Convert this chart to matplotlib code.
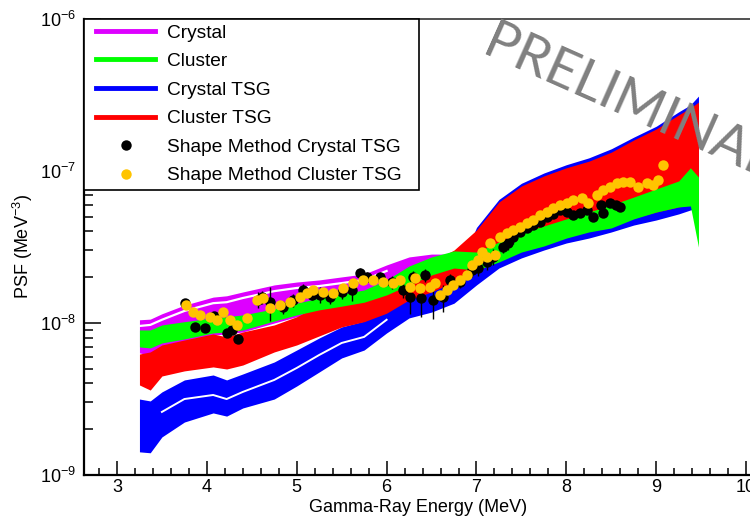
import numpy as np
import matplotlib
matplotlib.use("Agg")
import matplotlib.pyplot as plt
from matplotlib.lines import Line2D
from matplotlib.patches import Rectangle
from matplotlib.ticker import MultipleLocator, LogLocator, NullFormatter

plt.rcParams['font.family'] = ['Liberation Sans', 'DejaVu Sans']
plt.rcParams['mathtext.fontset'] = 'custom'
plt.rcParams['mathtext.rm'] = 'Liberation Sans'
plt.rcParams['mathtext.it'] = 'Liberation Sans:italic'
plt.rcParams['mathtext.bf'] = 'Liberation Sans:bold'

nan = np.nan

# band nodes (MeV)
energy = [3.25, 3.37, 3.50, 3.75, 4.07, 4.22, 4.40, 4.75, 5.00, 5.25, 5.50, 5.75, 6.00, 6.25,
          6.50, 6.75, 7.00, 7.25, 7.50, 7.75, 8.00, 8.25, 8.50, 8.75, 9.00, 9.25, 9.38, 9.47]

# Crystal
crystal_hi = [1.05e-8, 1.06e-8, 1.15e-8, 1.31e-8, 1.48e-8, 1.51e-8, 1.60e-8, 1.78e-8, 1.86e-8, 1.92e-8,
              2.01e-8, 2.10e-8, 2.41e-8, 2.72e-8, 2.84e-8, 2.84e-8, 2.80e-8, 3.26e-8, 3.74e-8, 4.16e-8,
              4.62e-8, 5.14e-8, 5.71e-8, 6.45e-8, 7.28e-8, 8.22e-8, 9.85e-8, 8.73e-8]
crystal_lo = [6.35e-9, 6.16e-9, 6.96e-9, 7.39e-9, 8.34e-9, 8.47e-9, 8.73e-9, 1.00e-8, 1.10e-8, 1.18e-8,
              1.26e-8, 1.33e-8, 1.48e-8, 1.72e-8, 2.01e-8, 2.23e-8, 2.16e-8, 2.44e-8, 2.84e-8, 3.11e-8,
              3.52e-8, 3.85e-8, 4.09e-8, 4.62e-8, 5.22e-8, 5.63e-8, 5.71e-8, 5.54e-8]
crystal_split = [9.56e-9, 9.71e-9, 1.05e-8, 1.20e-8, 1.35e-8, 1.37e-8, 1.46e-8, 1.62e-8, 1.70e-8, 1.75e-8,
                 1.83e-8, 1.92e-8, 2.20e-8, nan, nan, nan, nan, nan, nan, nan,
                 nan, nan, nan, nan, nan, nan, nan, nan]

# Cluster
cluster_hi = [9.00e-9, 9.00e-9, 9.71e-9, 1.02e-8, 1.08e-8, 1.10e-8, 1.13e-8, 1.24e-8, 1.35e-8, 1.46e-8,
              1.55e-8, 1.65e-8, 1.92e-8, 2.37e-8, 2.72e-8, 2.98e-8, 2.93e-8, 3.41e-8, 3.91e-8, 4.35e-8,
              4.84e-8, 5.37e-8, 5.98e-8, 6.74e-8, 7.62e-8, 8.60e-8, 1.05e-7, 9.13e-8]
cluster_lo = [6.96e-9, 6.85e-9, 7.39e-9, 7.85e-9, 8.60e-9, 8.73e-9, 9.00e-9, 1.03e-8, 1.13e-8, 1.22e-8,
              1.29e-8, 1.37e-8, 1.53e-8, 1.78e-8, 2.07e-8, 2.30e-8, 2.23e-8, 2.52e-8, 2.93e-8, 3.21e-8,
              3.62e-8, 3.97e-8, 4.22e-8, 4.84e-8, 5.37e-8, 5.80e-8, 5.89e-8, 3.16e-8]

# Crystal TSG
crystal_tsg_hi = [3.16e-9, 3.07e-9, 3.52e-9, 4.22e-9, 4.55e-9, 4.22e-9, 4.62e-9, 5.54e-9, 6.64e-9, 7.97e-9,
                  9.42e-9, 1.03e-8, 1.27e-8, 1.46e-8, 1.62e-8, 1.89e-8, 4.25e-8, 6.50e-8, 8.30e-8, 9.70e-8,
                  1.10e-7, 1.22e-7, 1.40e-7, 1.67e-7, 1.97e-7, 2.45e-7, 2.72e-7, 3.11e-7]
crystal_tsg_lo = [1.42e-9, 1.40e-9, 1.78e-9, 2.23e-9, 2.56e-9, 2.44e-9, 2.76e-9, 3.16e-9, 3.85e-9, 4.76e-9,
                  5.89e-9, 6.64e-9, 8.60e-9, 1.08e-8, 1.18e-8, 1.35e-8, 1.78e-8, 2.30e-8, 2.68e-8, 3.02e-8,
                  3.36e-8, 3.62e-8, 3.97e-8, 4.41e-8, 4.76e-8, 5.22e-8, 5.54e-8, 5.71e-8]
crystal_tsg_split = [nan, nan, 2.60e-9, 3.16e-9, 3.36e-9, 3.16e-9, 3.52e-9, 4.22e-9, 5.06e-9, 6.16e-9,
                     7.39e-9, 8.10e-9, 1.05e-8, nan, nan, nan, nan, nan, nan, nan,
                     nan, nan, nan, nan, nan, nan, nan, nan]

# Cluster TSG
cluster_tsg_hi = [6.25e-9, 6.45e-9, 7.17e-9, 7.73e-9, 8.47e-9, 8.10e-9, 8.73e-9, 9.71e-9, 1.10e-8, 1.31e-8,
                  1.42e-8, 1.51e-8, 1.83e-8, 2.16e-8, 2.52e-8, 3.02e-8, 4.09e-8, 6.25e-8, 7.97e-8, 9.28e-8,
                  1.05e-7, 1.16e-7, 1.33e-7, 1.60e-7, 1.89e-7, 2.34e-7, 2.60e-7, 2.84e-7]
cluster_tsg_lo = [3.91e-9, 3.62e-9, 4.48e-9, 4.84e-9, 5.14e-9, 4.98e-9, 5.29e-9, 6.45e-9, 7.17e-9, 8.22e-9,
                  9.42e-9, 1.02e-8, 1.16e-8, 1.42e-8, 1.60e-8, 1.86e-8, 2.16e-8, 2.68e-8, 3.02e-8, 3.36e-8,
                  3.74e-8, 4.09e-8, 4.41e-8, 4.91e-8, 5.37e-8, 5.80e-8, 5.98e-8, 5.98e-8]

# Shape method, crystal TSG
shape_crystal_e = [3.76, 3.87, 3.98, 4.08, 4.22, 4.28, 4.35, 4.57, 4.61, 4.70,
                   4.85, 4.96, 5.07, 5.17, 5.26, 5.37, 5.50, 5.62, 5.70, 5.78,
                   5.93, 6.06, 6.18, 6.26, 6.29, 6.38, 6.43, 6.52, 6.63, 6.71,
                   6.82, 6.95, 7.02, 7.12, 7.18, 7.30, 7.35, 7.41, 7.48, 7.56,
                   7.63, 7.71, 7.79, 7.85, 7.93, 8.01, 8.07, 8.15, 8.23, 8.30,
                   8.38, 8.41, 8.49, 8.55, 8.60]
shape_crystal_psf = [1.35e-8, 9.42e-9, 9.28e-9, 1.11e-8, 8.60e-9, 9.00e-9, 7.85e-9, 1.42e-8, 1.48e-8, 1.37e-8,
                     1.27e-8, 1.42e-8, 1.65e-8, 1.53e-8, 1.53e-8, 1.48e-8, 1.60e-8, 1.65e-8, 2.13e-8, 2.01e-8,
                     2.01e-8, 1.86e-8, 1.65e-8, 1.48e-8, 2.01e-8, 1.46e-8, 2.07e-8, 1.42e-8, 1.48e-8, 1.92e-8,
                     1.86e-8, 2.23e-8, 2.30e-8, 2.52e-8, 2.72e-8, 3.16e-8, 3.36e-8, 3.68e-8, 3.97e-8, 4.22e-8,
                     4.41e-8, 4.62e-8, 4.98e-8, 5.22e-8, 5.54e-8, 5.37e-8, 5.14e-8, 5.29e-8, 5.54e-8, 4.98e-8,
                     5.98e-8, 5.29e-8, 6.16e-8, 5.98e-8, 5.80e-8]
shape_crystal_relerr = [0.05, 0.05, 0.05, 0.05, 0.05, 0.05, 0.05, 0.12, 0.10, 0.25,
                        0.10, 0.10, 0.10, 0.08, 0.12, 0.10, 0.10, 0.15, 0.08, 0.08,
                        0.08, 0.10, 0.12, 0.22, 0.10, 0.25, 0.10, 0.25, 0.20, 0.10,
                        0.08, 0.10, 0.12, 0.12, 0.12, 0.08, 0.10, 0.10, 0.05, 0.05,
                        0.05, 0.05, 0.05, 0.05, 0.05, 0.05, 0.05, 0.05, 0.05, 0.05,
                        0.05, 0.05, 0.05, 0.05, 0.05]

# Shape method, cluster TSG
shape_cluster_e = [3.77, 3.85, 3.92, 4.03, 4.11, 4.18, 4.26, 4.34, 4.45, 4.56,
                   4.62, 4.70, 4.81, 4.93, 5.04, 5.11, 5.18, 5.29, 5.40, 5.52,
                   5.63, 5.74, 5.85, 5.96, 6.07, 6.15, 6.26, 6.32, 6.37, 6.48,
                   6.54, 6.59, 6.67, 6.74, 6.82, 6.89, 6.95, 7.02, 7.06, 7.12,
                   7.15, 7.21, 7.26, 7.34, 7.41, 7.48, 7.56, 7.63, 7.71, 7.79,
                   7.85, 7.93, 8.01, 8.07, 8.17, 8.24, 8.34, 8.41, 8.49, 8.56,
                   8.63, 8.71, 8.80, 8.90, 8.96, 9.02, 9.08]
shape_cluster_psf = [1.31e-8, 1.18e-8, 1.13e-8, 1.10e-8, 1.05e-8, 1.18e-8, 1.05e-8, 9.71e-9, 1.08e-8, 1.42e-8,
                     1.46e-8, 1.26e-8, 1.31e-8, 1.37e-8, 1.48e-8, 1.58e-8, 1.65e-8, 1.60e-8, 1.58e-8, 1.70e-8,
                     1.83e-8, 1.92e-8, 1.92e-8, 1.86e-8, 1.83e-8, 1.92e-8, 1.72e-8, 1.98e-8, 1.70e-8, 1.72e-8,
                     1.83e-8, 1.53e-8, 1.65e-8, 1.78e-8, 1.92e-8, 2.07e-8, 2.41e-8, 2.60e-8, 2.93e-8, 2.72e-8,
                     3.36e-8, 2.80e-8, 3.68e-8, 3.91e-8, 4.09e-8, 4.28e-8, 4.55e-8, 4.76e-8, 5.14e-8, 5.37e-8,
                     5.71e-8, 5.98e-8, 6.16e-8, 6.45e-8, 6.64e-8, 6.16e-8, 6.96e-8, 7.50e-8, 7.85e-8, 8.34e-8,
                     8.47e-8, 8.47e-8, 7.85e-8, 8.34e-8, 8.10e-8, 8.73e-8, 1.10e-7]

col_crystal = '#dd00ff'
col_cluster = '#00ff00'
col_crystal_tsg = '#0000ff'
col_cluster_tsg = '#ff0000'
col_shape_cluster = '#ffc400'

fig = plt.figure(figsize=(7.5, 5.19), dpi=100)
ax = fig.add_axes([0.112, 0.0848, 0.9547, 0.8786])

x = np.array(energy)

# bands; crystal and crystal TSG each show a thin white seam between sub-bands
ax.fill_between(x, crystal_lo, crystal_hi, color=col_crystal, lw=0, zorder=1)
ax.plot(x, crystal_split, color='white', lw=1.6, zorder=1.1)
ax.fill_between(x, crystal_tsg_lo, crystal_tsg_hi, color=col_crystal_tsg, lw=0, zorder=2)
ax.plot(x, crystal_tsg_split, color='white', lw=1.4, zorder=2.1)
ax.fill_between(x, cluster_tsg_lo, cluster_tsg_hi, color=col_cluster_tsg, lw=0, zorder=3)
ax.fill_between(x, cluster_lo, cluster_hi, color=col_cluster, lw=0, zorder=4)

e_c = np.array(shape_crystal_e)
p_c = np.array(shape_crystal_psf)
ax.errorbar(e_c, p_c, yerr=p_c * np.array(shape_crystal_relerr), fmt='o', color='black',
            ms=7.5, mew=0, elinewidth=1.0, capsize=2.5, capthick=1.0, zorder=5)
ax.plot(shape_cluster_e, shape_cluster_psf, 'o', color=col_shape_cluster, ms=7.5, mew=0, zorder=6)

ax.set_yscale('log')
ax.set_xlim(2.633, 10.6)
ax.set_ylim(1e-9, 1e-6)

ax.xaxis.set_major_locator(MultipleLocator(1))
ax.xaxis.set_minor_locator(MultipleLocator(0.2))
ax.yaxis.set_major_locator(LogLocator(base=10, numticks=10))
ax.yaxis.set_minor_locator(LogLocator(base=10, subs=np.arange(2, 10), numticks=10))
ax.yaxis.set_minor_formatter(NullFormatter())

ax.tick_params(axis='x', which='major', direction='in', length=10, width=1.1, labelsize=13, pad=3)
ax.tick_params(axis='x', which='minor', direction='in', length=5, width=1.1)
ax.tick_params(axis='y', which='major', direction='in', length=12.5, width=1.1, labelsize=13, pad=6)
ax.tick_params(axis='y', which='minor', direction='in', length=6.5, width=1.1)
ax.tick_params(top=False, right=False)

for side in ['left', 'bottom']:
    ax.spines[side].set_linewidth(1.6)
ax.spines['top'].set_linewidth(1.2)
ax.spines['top'].set_color('#333333')
ax.spines['right'].set_visible(False)

fig.text(418 / 750, 1 - 508 / 519, 'Gamma-Ray Energy (MeV)', ha='center', va='center', fontsize=13)
fig.text(23 / 750, 1 - 247 / 519, r'PSF (MeV$^{-3}$)', ha='center', va='center', rotation=90, fontsize=13)

# legend: white box in the upper-left corner, entries laid over it
box = Rectangle((0, 0.625), 0.468, 0.375, transform=ax.transAxes, facecolor='white',
                edgecolor='black', lw=1.2, zorder=9, clip_on=False)
ax.add_patch(box)

handles = [
    Line2D([], [], color=col_crystal, lw=3.5),
    Line2D([], [], color=col_cluster, lw=3.5),
    Line2D([], [], color=col_crystal_tsg, lw=3.5),
    Line2D([], [], color=col_cluster_tsg, lw=3.5),
    Line2D([], [], color='black', marker='o', ls='none', ms=7.5, mew=0),
    Line2D([], [], color=col_shape_cluster, marker='o', ls='none', ms=7.5, mew=0),
]
labels = ['Crystal', 'Cluster', 'Crystal TSG', 'Cluster TSG',
          'Shape Method Crystal TSG', 'Shape Method Cluster TSG']
leg = ax.legend(handles, labels, loc='upper left', bbox_to_anchor=(0.0168, 0.9885),
                borderaxespad=0, borderpad=0, fontsize=13.8, handlelength=3.08, handletextpad=0.63,
                labelspacing=0.58, frameon=False, numpoints=1)
leg.set_zorder(10)

fig.text(480 / 750, 1 - 54 / 519, 'PRELIMINARY', rotation=-24, rotation_mode='anchor',
         ha='left', va='baseline', color='#808080', fontsize=39, family=['Lato', 'DejaVu Sans'], zorder=20)

fig.savefig('out.png', dpi=100)
